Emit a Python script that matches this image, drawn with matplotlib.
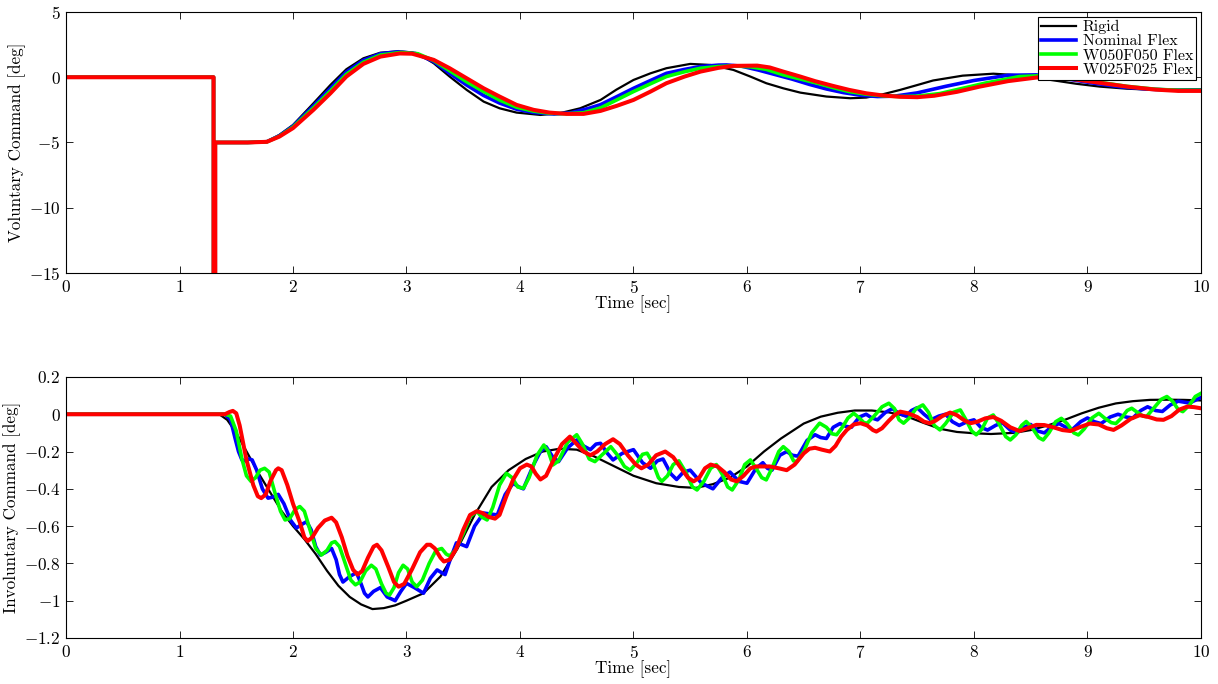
import matplotlib
matplotlib.use("Agg")
import matplotlib.pyplot as plt
from matplotlib.ticker import FuncFormatter

plt.rcParams['font.family'] = 'serif'
plt.rcParams['font.serif'] = ['cmr10', 'DejaVu Serif']
plt.rcParams['mathtext.fontset'] = 'cm'
plt.rcParams['axes.formatter.use_mathtext'] = True

labels = ["Rigid", "Nominal Flex", "W050F050 Flex", "W025F025 Flex"]
colors = ["black", "#0000ff", "#00ff00", "#ff0000"]

# ---- voluntary command (top), (time, deg) ----
vol_rigid = [(0, 0), (1.3, 0), (1.3, -16), (1.315, -16), (1.315, -5), (1.6, -5), (1.77, -4.93),
             (1.88, -4.42), (2.0, -3.66), (2.18, -2.0), (2.33, -0.59), (2.47, 0.61), (2.62, 1.45),
             (2.77, 1.88), (2.92, 1.98), (3.05, 1.9), (3.12, 1.71), (3.24, 1.07), (3.38, 0.05),
             (3.53, -0.97), (3.68, -1.87), (3.82, -2.38), (3.97, -2.71), (4.18, -2.89), (4.35, -2.76),
             (4.53, -2.38), (4.71, -1.74), (4.85, -0.95), (5.0, -0.21), (5.15, 0.3), (5.29, 0.69),
             (5.5, 1.02), (5.68, 0.94), (5.88, 0.56), (6.03, 0.05), (6.17, -0.46), (6.32, -0.85),
             (6.47, -1.18), (6.7, -1.48), (6.91, -1.61), (7.05, -1.56), (7.2, -1.3), (7.35, -0.97),
             (7.5, -0.6), (7.64, -0.25), (7.9, 0.12), (8.17, 0.27), (8.4, 0.15), (8.67, -0.2),
             (8.9, -0.5), (9.11, -0.72), (9.35, -0.88), (9.55, -0.95), (9.8, -0.95), (10.0, -0.92)]

vol_nom = [(0, 0), (1.3, 0), (1.3, -16), (1.315, -16), (1.315, -5), (1.6, -5), (1.77, -4.94),
           (1.88, -4.48), (2.0, -3.75), (2.18, -2.2), (2.33, -0.85), (2.47, 0.4), (2.62, 1.3),
           (2.77, 1.8), (2.93, 1.95), (3.08, 1.82), (3.24, 1.2), (3.38, 0.3), (3.53, -0.6),
           (3.68, -1.4), (3.82, -1.98), (3.97, -2.45), (4.12, -2.7), (4.3, -2.82), (4.45, -2.72),
           (4.6, -2.4), (4.71, -2.1), (4.85, -1.5), (5.0, -0.85), (5.15, -0.25), (5.29, 0.3),
           (5.45, 0.6), (5.59, 0.82), (5.75, 0.93), (5.82, 0.94), (5.95, 0.85), (6.1, 0.55),
           (6.25, 0.2), (6.4, -0.15), (6.55, -0.55), (6.7, -0.9), (6.85, -1.18), (7.0, -1.38),
           (7.15, -1.48), (7.3, -1.45), (7.5, -1.2), (7.75, -0.7), (8.0, -0.25), (8.3, 0.15),
           (8.55, 0.18), (8.8, -0.1), (9.05, -0.45), (9.3, -0.75), (9.55, -0.92), (9.8, -1.0),
           (10.0, -0.98)]

vol_w050 = [(0, 0), (1.3, 0), (1.3, -16), (1.315, -16), (1.315, -5), (1.6, -5), (1.77, -4.95),
            (1.88, -4.52), (2.0, -3.82), (2.18, -2.35), (2.33, -1.05), (2.47, 0.22), (2.62, 1.15),
            (2.77, 1.7), (2.95, 1.9), (3.1, 1.8), (3.24, 1.28), (3.38, 0.5), (3.53, -0.35),
            (3.68, -1.1), (3.82, -1.75), (3.97, -2.3), (4.12, -2.6), (4.26, -2.76), (4.41, -2.8),
            (4.56, -2.72), (4.71, -2.35), (4.85, -1.75), (5.0, -1.1), (5.15, -0.5), (5.29, 0.05),
            (5.45, 0.42), (5.59, 0.69), (5.75, 0.82), (5.88, 0.87), (6.03, 0.8), (6.17, 0.6),
            (6.32, 0.18), (6.47, -0.14), (6.62, -0.46), (6.76, -0.8), (6.9, -1.1), (7.05, -1.3),
            (7.2, -1.43), (7.35, -1.48), (7.5, -1.45), (7.7, -1.25), (7.9, -0.85), (8.1, -0.45),
            (8.4, 0.05), (8.6, 0.12), (8.85, -0.05), (9.1, -0.38), (9.35, -0.7), (9.6, -0.92),
            (9.8, -1.0), (10.0, -1.0)]

vol_w025 = [(0, 0), (1.3, 0), (1.3, -16), (1.315, -16), (1.315, -5), (1.6, -5), (1.77, -4.95),
            (1.88, -4.55), (2.0, -3.9), (2.18, -2.5), (2.33, -1.23), (2.47, 0.05), (2.62, 1.02),
            (2.77, 1.58), (2.94, 1.82), (3.05, 1.8), (3.12, 1.63), (3.24, 1.33), (3.38, 0.69),
            (3.53, -0.08), (3.68, -0.85), (3.82, -1.48), (3.97, -2.12), (4.12, -2.5), (4.26, -2.71),
            (4.41, -2.81), (4.56, -2.81), (4.71, -2.58), (4.85, -2.2), (5.0, -1.74), (5.15, -1.1),
            (5.29, -0.46), (5.45, 0.05), (5.59, 0.43), (5.75, 0.72), (5.88, 0.87), (6.09, 0.89),
            (6.2, 0.75), (6.32, 0.43), (6.47, 0.05), (6.6, -0.3), (6.76, -0.67), (6.9, -0.97),
            (7.05, -1.23), (7.2, -1.4), (7.35, -1.5), (7.5, -1.53), (7.65, -1.42), (7.85, -1.12),
            (8.05, -0.72), (8.3, -0.3), (8.6, 0.03), (8.85, -0.12), (9.1, -0.42), (9.35, -0.72),
            (9.6, -0.95), (9.8, -1.05), (10.0, -1.05)]

# ---- involuntary command (bottom), (time, deg) ----
inv_rigid = [(0, 0), (1.35, 0), (1.42, -0.03), (1.5, -0.1), (1.6, -0.21), (1.7, -0.32), (1.8, -0.42),
             (1.9, -0.52), (2.0, -0.6), (2.1, -0.67), (2.2, -0.75), (2.3, -0.84), (2.4, -0.92),
             (2.5, -0.98), (2.6, -1.02), (2.7, -1.045), (2.8, -1.04), (2.9, -1.025), (3.0, -1.0),
             (3.15, -0.96), (3.3, -0.87), (3.45, -0.72), (3.6, -0.54), (3.75, -0.39), (3.9, -0.3),
             (4.05, -0.24), (4.2, -0.2), (4.35, -0.185), (4.5, -0.19), (4.65, -0.225), (4.8, -0.27),
             (5.0, -0.33), (5.2, -0.37), (5.4, -0.39), (5.55, -0.395), (5.7, -0.375), (5.85, -0.34),
             (6.0, -0.28), (6.15, -0.2), (6.3, -0.13), (6.5, -0.05), (6.65, -0.013), (6.8, 0.008),
             (6.95, 0.02), (7.1, 0.02), (7.25, 0.01), (7.4, -0.01), (7.55, -0.045), (7.7, -0.078),
             (7.85, -0.095), (8.0, -0.102), (8.15, -0.106), (8.35, -0.1), (8.5, -0.085), (8.65, -0.06),
             (8.8, -0.03), (8.95, 0.005), (9.1, 0.035), (9.25, 0.058), (9.4, 0.07), (9.55, 0.077),
             (9.7, 0.078), (9.85, 0.077), (10.0, 0.074)]

inv_nom = [(0, 0), (1.40, 0), (1.45, -0.03), (1.49, -0.13), (1.52, -0.2), (1.55, -0.245), (1.58, -0.25),
           (1.61, -0.24), (1.64, -0.245), (1.68, -0.3), (1.73, -0.4), (1.78, -0.45), (1.82, -0.445),
           (1.87, -0.43), (1.92, -0.48), (1.98, -0.57), (2.03, -0.61), (2.08, -0.59), (2.12, -0.576),
           (2.16, -0.62), (2.2, -0.71), (2.24, -0.755), (2.29, -0.74), (2.34, -0.72), (2.38, -0.78),
           (2.41, -0.86), (2.44, -0.9), (2.5, -0.87), (2.56, -0.85), (2.6, -0.91), (2.63, -0.96),
           (2.66, -0.98), (2.71, -0.95), (2.77, -0.93), (2.83, -0.98), (2.9, -1.0), (2.95, -0.95),
           (3.0, -0.907), (3.07, -0.93), (3.15, -0.96), (3.21, -0.88), (3.27, -0.835), (3.31, -0.85),
           (3.34, -0.86), (3.39, -0.77), (3.44, -0.69), (3.49, -0.7), (3.53, -0.71), (3.6, -0.6),
           (3.68, -0.53), (3.74, -0.535), (3.8, -0.54), (3.87, -0.43), (3.94, -0.37), (3.99, -0.39),
           (4.03, -0.4), (4.12, -0.27), (4.18, -0.2), (4.23, -0.174), (4.29, -0.23), (4.34, -0.254),
           (4.42, -0.18), (4.5, -0.138), (4.56, -0.17), (4.62, -0.19), (4.67, -0.16), (4.71, -0.156),
           (4.77, -0.21), (4.82, -0.245), (4.9, -0.21), (5.0, -0.19), (5.08, -0.26), (5.15, -0.29),
           (5.21, -0.25), (5.26, -0.24), (5.33, -0.32), (5.38, -0.35), (5.44, -0.31), (5.5, -0.3),
           (5.6, -0.37), (5.7, -0.4), (5.78, -0.34), (5.85, -0.31), (5.93, -0.36), (6.0, -0.37),
           (6.08, -0.29), (6.14, -0.26), (6.18, -0.29), (6.22, -0.3), (6.29, -0.22), (6.35, -0.2),
           (6.4, -0.22), (6.45, -0.225), (6.53, -0.14), (6.6, -0.11), (6.65, -0.125), (6.7, -0.13),
           (6.76, -0.07), (6.82, -0.05), (6.87, -0.065), (6.92, -0.07), (6.99, -0.015), (7.05, 0.0),
           (7.1, -0.02), (7.15, -0.03), (7.22, 0.01), (7.28, 0.03), (7.34, 0.005), (7.4, -0.01),
           (7.45, 0.02), (7.5, 0.035), (7.56, 0.0), (7.62, -0.03), (7.69, -0.01), (7.75, 0.0),
           (7.81, -0.04), (7.87, -0.06), (7.94, -0.04), (8.0, -0.03), (8.06, -0.07), (8.12, -0.085),
           (8.19, -0.06), (8.25, -0.045), (8.32, -0.085), (8.38, -0.1), (8.44, -0.07), (8.5, -0.055),
           (8.56, -0.09), (8.62, -0.1), (8.69, -0.065), (8.75, -0.05), (8.81, -0.07), (8.87, -0.08),
           (8.94, -0.04), (9.0, -0.02), (9.06, -0.04), (9.12, -0.05), (9.2, -0.015), (9.27, 0.0),
           (9.34, -0.015), (9.4, -0.02), (9.47, 0.02), (9.53, 0.04), (9.6, 0.02), (9.66, 0.015),
           (9.73, 0.05), (9.8, 0.07), (9.85, 0.065), (9.9, 0.06), (9.95, 0.075), (10.0, 0.09)]

inv_w050 = [(0, 0), (1.40, 0), (1.45, -0.01), (1.5, -0.09), (1.55, -0.24), (1.59, -0.33), (1.63, -0.36),
            (1.67, -0.34), (1.71, -0.3), (1.75, -0.29), (1.79, -0.31), (1.84, -0.42), (1.89, -0.52),
            (1.93, -0.567), (1.97, -0.56), (2.02, -0.51), (2.06, -0.495), (2.1, -0.52), (2.15, -0.62),
            (2.2, -0.72), (2.25, -0.755), (2.3, -0.73), (2.34, -0.69), (2.37, -0.683), (2.41, -0.71),
            (2.46, -0.8), (2.51, -0.89), (2.55, -0.915), (2.59, -0.9), (2.64, -0.84), (2.69, -0.81),
            (2.73, -0.83), (2.78, -0.91), (2.82, -0.96), (2.85, -0.97), (2.89, -0.93), (2.93, -0.85),
            (2.97, -0.81), (3.01, -0.83), (3.05, -0.9), (3.09, -0.925), (3.14, -0.89), (3.2, -0.8),
            (3.26, -0.73), (3.31, -0.72), (3.35, -0.75), (3.38, -0.76), (3.43, -0.73), (3.5, -0.64),
            (3.56, -0.55), (3.62, -0.52), (3.66, -0.55), (3.71, -0.567), (3.76, -0.5), (3.82, -0.38),
            (3.88, -0.317), (3.93, -0.34), (3.98, -0.39), (4.03, -0.397), (4.08, -0.34), (4.15, -0.22),
            (4.21, -0.165), (4.25, -0.2), (4.29, -0.272), (4.34, -0.25), (4.42, -0.15), (4.5, -0.11),
            (4.55, -0.16), (4.61, -0.24), (4.66, -0.254), (4.72, -0.22), (4.8, -0.174), (4.86, -0.22),
            (4.92, -0.28), (4.97, -0.3), (5.03, -0.26), (5.08, -0.215), (5.12, -0.209), (5.17, -0.26),
            (5.22, -0.34), (5.25, -0.36), (5.3, -0.33), (5.35, -0.27), (5.4, -0.25), (5.46, -0.31),
            (5.52, -0.39), (5.56, -0.406), (5.62, -0.36), (5.68, -0.29), (5.73, -0.27), (5.78, -0.32),
            (5.83, -0.39), (5.87, -0.406), (5.93, -0.35), (5.98, -0.27), (6.03, -0.245), (6.08, -0.29),
            (6.13, -0.34), (6.17, -0.352), (6.22, -0.29), (6.28, -0.2), (6.32, -0.174), (6.37, -0.2),
            (6.41, -0.25), (6.44, -0.254), (6.5, -0.2), (6.57, -0.1), (6.64, -0.048), (6.7, -0.07),
            (6.75, -0.105), (6.79, -0.11), (6.84, -0.07), (6.89, -0.02), (6.94, 0.005), (6.99, -0.02),
            (7.03, -0.045), (7.06, -0.048), (7.12, -0.01), (7.19, 0.04), (7.25, 0.059), (7.3, 0.03),
            (7.34, -0.03), (7.38, -0.048), (7.43, -0.02), (7.49, 0.03), (7.55, 0.05), (7.6, 0.01),
            (7.65, -0.06), (7.7, -0.084), (7.75, -0.05), (7.82, 0.01), (7.88, 0.023), (7.93, -0.03),
            (7.98, -0.09), (8.02, -0.11), (8.07, -0.08), (8.12, -0.02), (8.17, -0.004), (8.22, -0.05),
            (8.28, -0.12), (8.32, -0.138), (8.37, -0.11), (8.42, -0.06), (8.46, -0.039), (8.51, -0.07),
            (8.57, -0.125), (8.61, -0.138), (8.66, -0.1), (8.72, -0.04), (8.77, -0.022), (8.82, -0.05),
            (8.88, -0.1), (8.92, -0.111), (8.97, -0.08), (9.04, -0.02), (9.1, 0.005), (9.15, -0.02),
            (9.21, -0.045), (9.25, -0.05), (9.3, -0.02), (9.35, 0.02), (9.39, 0.032), (9.44, 0.01),
            (9.49, -0.01), (9.52, -0.013), (9.58, 0.03), (9.65, 0.08), (9.7, 0.095), (9.75, 0.07),
            (9.8, 0.025), (9.84, 0.014), (9.9, 0.05), (9.95, 0.095), (10.0, 0.112)]

inv_w025 = [(0, 0), (1.40, 0), (1.44, 0.012), (1.47, 0.018), (1.50, 0.005), (1.53, -0.06), (1.59, -0.245),
            (1.65, -0.38), (1.69, -0.44), (1.72, -0.45), (1.76, -0.43), (1.80, -0.36), (1.85, -0.3),
            (1.87, -0.29), (1.90, -0.3), (1.95, -0.38), (2.0, -0.48), (2.06, -0.58), (2.10, -0.66),
            (2.13, -0.68), (2.17, -0.66), (2.22, -0.61), (2.28, -0.57), (2.34, -0.555), (2.38, -0.58),
            (2.43, -0.66), (2.48, -0.76), (2.53, -0.835), (2.57, -0.86), (2.61, -0.84), (2.66, -0.77),
            (2.71, -0.71), (2.74, -0.70), (2.78, -0.73), (2.84, -0.82), (2.89, -0.9), (2.93, -0.925),
            (2.98, -0.91), (3.05, -0.83), (3.12, -0.74), (3.18, -0.70), (3.21, -0.70), (3.25, -0.72),
            (3.30, -0.77), (3.33, -0.79), (3.38, -0.78), (3.44, -0.72), (3.50, -0.62), (3.56, -0.54),
            (3.62, -0.52), (3.67, -0.53), (3.72, -0.55), (3.78, -0.56), (3.82, -0.54), (3.88, -0.44),
            (3.94, -0.35), (4.0, -0.29), (4.06, -0.27), (4.1, -0.28), (4.14, -0.32), (4.18, -0.35),
            (4.23, -0.33), (4.3, -0.24), (4.37, -0.16), (4.44, -0.12), (4.5, -0.16), (4.56, -0.2),
            (4.62, -0.22), (4.68, -0.2), (4.75, -0.16), (4.82, -0.134), (4.88, -0.16), (4.95, -0.22),
            (5.02, -0.27), (5.07, -0.29), (5.13, -0.27), (5.2, -0.22), (5.28, -0.2), (5.35, -0.23),
            (5.42, -0.29), (5.48, -0.34), (5.53, -0.36), (5.58, -0.34), (5.63, -0.29), (5.68, -0.27),
            (5.74, -0.28), (5.8, -0.31), (5.86, -0.35), (5.91, -0.36), (5.97, -0.33), (6.03, -0.29),
            (6.08, -0.28), (6.14, -0.28), (6.2, -0.28), (6.28, -0.29), (6.35, -0.3), (6.42, -0.27),
            (6.5, -0.21), (6.55, -0.185), (6.6, -0.18), (6.66, -0.19), (6.73, -0.2), (6.78, -0.17),
            (6.83, -0.12), (6.88, -0.084), (6.94, -0.055), (7.0, -0.048), (7.06, -0.06), (7.11, -0.085),
            (7.14, -0.093), (7.19, -0.075), (7.25, -0.035), (7.3, -0.005), (7.35, 0.014), (7.42, 0.005),
            (7.5, -0.015), (7.56, -0.04), (7.61, -0.048), (7.66, -0.035), (7.72, -0.01), (7.79, 0.009),
            (7.85, -0.005), (7.92, -0.035), (7.97, -0.048), (8.03, -0.04), (8.1, -0.022), (8.17, -0.015),
            (8.24, -0.035), (8.32, -0.07), (8.4, -0.09), (8.47, -0.075), (8.55, -0.057), (8.62, -0.058),
            (8.7, -0.07), (8.78, -0.085), (8.85, -0.09), (8.93, -0.07), (9.02, -0.05), (9.1, -0.055),
            (9.17, -0.075), (9.23, -0.084), (9.3, -0.06), (9.38, -0.025), (9.46, -0.005), (9.54, -0.015),
            (9.61, -0.028), (9.67, -0.03), (9.74, -0.01), (9.81, 0.025), (9.88, 0.041), (9.94, 0.038),
            (10.0, 0.032)]

vol_series = [vol_rigid, vol_nom, vol_w050, vol_w025]
inv_series = [inv_rigid, inv_nom, inv_w050, inv_w025]
widths = [1.6, 2.6, 2.6, 2.9]
fs = 12.3

fig = plt.figure(figsize=(12.18, 6.84), dpi=100)
ax1 = fig.add_axes([0.0542, 0.6009, 0.9318, 0.3816])
ax2 = fig.add_axes([0.0542, 0.0673, 0.9318, 0.3816])

fmt = FuncFormatter(lambda v, p: "$%g$" % round(v, 6))

for ax, series in ((ax1, vol_series), (ax2, inv_series)):
    for pts, c, lw, lab in zip(series, colors, widths, labels):
        t, y = zip(*pts)
        ax.plot(t, y, color=c, lw=lw, label=lab, solid_joinstyle='round')
    ax.set_xlim(0, 10)
    ax.set_xticks(range(0, 11))
    ax.xaxis.set_major_formatter(fmt)
    ax.yaxis.set_major_formatter(fmt)
    ax.tick_params(direction='in', top=True, right=True, length=5, width=0.6,
                   labelsize=fs, pad=4)
    ax.set_xlabel("Time [sec]", fontsize=fs, labelpad=0)
    for s in ax.spines.values():
        s.set_linewidth(0.8)

ax1.set_ylim(-15, 5)
ax1.set_yticks([-15, -10, -5, 0, 5])
ax1.set_ylabel("Voluntary Command [deg]", fontsize=fs, labelpad=2)

ax2.set_ylim(-1.2, 0.2)
ax2.set_yticks([-1.2, -1.0, -0.8, -0.6, -0.4, -0.2, 0.0, 0.2])
ax2.set_ylabel("Involuntary Command [deg]", fontsize=fs, labelpad=2)

leg = ax1.legend(loc='upper right', fontsize=11.5, frameon=True, fancybox=False,
                 borderaxespad=0.3, handlelength=2.2, labelspacing=0.0,
                 borderpad=0.2, handletextpad=0.4)
leg.get_frame().set_edgecolor('black')
leg.get_frame().set_linewidth(0.8)
leg.get_frame().set_alpha(1)

fig.savefig("out.png", dpi=100)
